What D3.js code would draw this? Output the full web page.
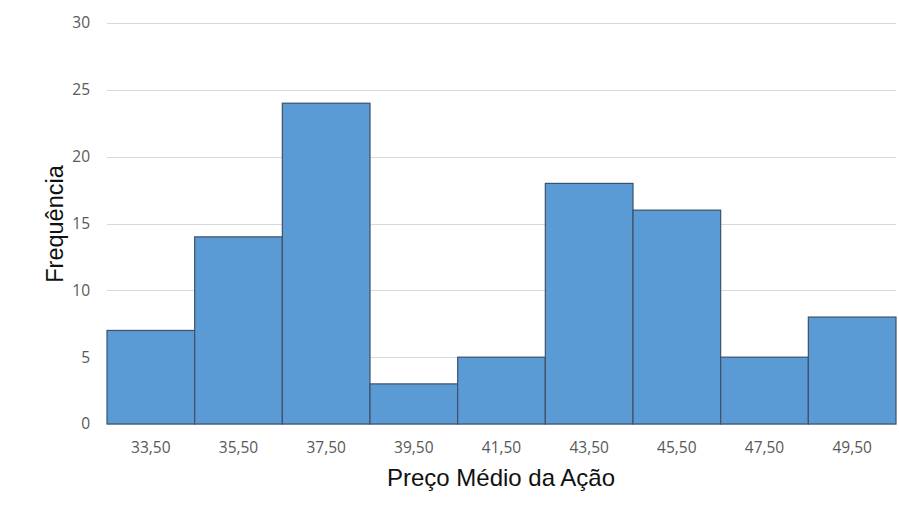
<!DOCTYPE html>
<html>
<head>
<meta charset="utf-8">
<script src="https://cdn.jsdelivr.net/npm/d3@7"></script>
<style>
  html, body { margin: 0; padding: 0; background: #fff; }
  svg { display: block; font-family: "Open Sans", "Liberation Sans", sans-serif; }
</style>
</head>
<body>
<svg id="chart" width="899" height="521"></svg>
<script>
// Histogram bins (price midpoints) and their frequencies
const categories = ["33,50", "35,50", "37,50", "39,50", "41,50", "43,50", "45,50", "47,50", "49,50"];
const frequencies = [7, 14, 24, 3, 5, 18, 16, 5, 8];
const yTicks = [0, 5, 10, 15, 20, 25, 30];

const margin = { top: 23, right: 3, bottom: 97, left: 107 };
const width = 899, height = 521;
const svg = d3.select("#chart");

const x = d3.scaleBand()
  .domain(categories)
  .range([margin.left, width - margin.right])
  .padding(0);

const y = d3.scaleLinear()
  .domain([0, 30])
  .range([height - margin.bottom, margin.top]);

// Horizontal gridlines
svg.append("g")
  .selectAll("line")
  .data(yTicks)
  .join("line")
  .attr("x1", margin.left)
  .attr("x2", width - margin.right)
  .attr("y1", d => Math.round(y(d)) + 0.5)
  .attr("y2", d => Math.round(y(d)) + 0.5)
  .attr("stroke", "#d9d9d9")
  .attr("stroke-width", 1);

// Y axis labels
const yAxis = d3.axisLeft(y).tickValues(yTicks).tickSize(0).tickPadding(0);
svg.append("g")
  .attr("transform", `translate(${margin.left - 17},0)`)
  .call(yAxis)
  .call(g => g.select(".domain").remove())
  .call(g => g.selectAll("text")
    .attr("fill", "#595959")
    .attr("font-size", 15.5)
    .attr("font-family", "Open Sans, Liberation Sans, sans-serif"));

// Bars
svg.append("g")
  .selectAll("rect")
  .data(frequencies)
  .join("rect")
  .attr("x", (d, i) => x(categories[i]))
  .attr("y", d => y(d))
  .attr("width", x.bandwidth())
  .attr("height", d => y(0) - y(d))
  .attr("fill", "#5b9bd5")
  .attr("stroke", "#3f5068")
  .attr("stroke-width", 1.2);

// X axis labels
const xAxis = d3.axisBottom(x).tickSize(0).tickPadding(0);
svg.append("g")
  .attr("transform", `translate(0,453)`)
  .call(xAxis)
  .call(g => g.select(".domain").remove())
  .call(g => g.selectAll("text")
    .attr("y", 0)
    .attr("dy", 0)
    .attr("fill", "#595959")
    .attr("font-size", 15.5)
    .attr("font-family", "Open Sans, Liberation Sans, sans-serif"));

// Axis titles
svg.append("text")
  .attr("x", 501)
  .attr("y", 486)
  .attr("text-anchor", "middle")
  .attr("fill", "#111")
  .attr("font-family", "Liberation Sans, Arial, sans-serif")
  .attr("font-size", 24)
  .text("Preço Médio da Ação");

svg.append("text")
  .attr("transform", `translate(63,224) rotate(-90)`)
  .attr("text-anchor", "middle")
  .attr("fill", "#111")
  .attr("font-family", "Liberation Sans, Arial, sans-serif")
  .attr("font-size", 23.5)
  .text("Frequência");
</script>
</body>
</html>
